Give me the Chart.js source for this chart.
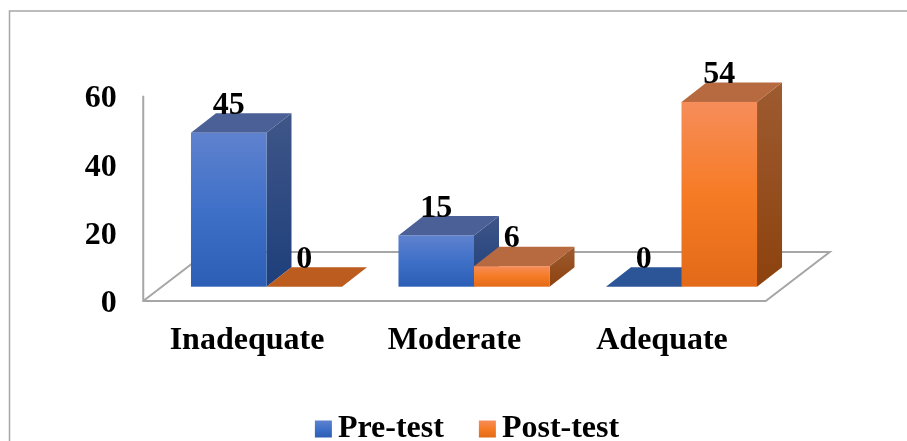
<!DOCTYPE html>
<html>
<head>
<meta charset="utf-8">
<style>
html,body{margin:0;padding:0;background:#fff;overflow:hidden}
canvas{display:block}
</style>
<script src="https://cdn.jsdelivr.net/npm/chart.js@4"></script>
</head>
<body>
<canvas id="c" width="907" height="441" style="width:907px;height:441px"></canvas>
<script>
const categories = ['Inadequate', 'Moderate', 'Adequate'];
const seriesNames = ['Pre-test', 'Post-test'];
const preTest = [45, 15, 0];
const postTest = [0, 6, 54];
const yTicks = [0, 20, 40, 60];

const FONT = '"Liberation Serif", "Times New Roman", serif';
const FONT_SIZE = 32;
const GRID = '#a6a6a6';

const palettes = [
  {front: ['#5f82ce', '#3f70c8', '#2c5eb6'], side: ['#3f5688', '#1e3f7b'], top: '#4a6096', flat: '#2c5597'},
  {front: ['#f68d5a', '#f67b25', '#e26a18'], side: ['#9e5b30', '#8c420e'], top: '#b76a40', flat: '#bc5c1f'}
];

// 3D projection offsets
const BAR_DX = 25, BAR_DY = -19.5;   // depth of a bar
const FLOOR_DX = 64, FLOOR_DY = -49; // depth of the floor
const FRONT_X = -19.5, FRONT_Y = 14.3; // front floor edge relative to plot box
const LEGEND_SHIFT = 35.4;

function vGrad(ctx, top, bottom, stops) {
  const g = ctx.createLinearGradient(0, top, 0, bottom);
  stops.forEach((c, i) => g.addColorStop(stops.length === 1 ? 0 : i / (stops.length - 1), c));
  return g;
}

const scene3d = {
  id: 'scene3d',
  afterLayout(chart) {
    const lg = chart.legend;
    lg.left += LEGEND_SHIFT;
    lg.right += LEGEND_SHIFT;
  },
  beforeDatasetsDraw(chart) {
    const {ctx, chartArea: a} = chart;
    ctx.save();
    // outer frame: left and top only
    ctx.strokeStyle = GRID;
    ctx.lineWidth = 1.5;
    ctx.beginPath();
    ctx.moveTo(9.5, 441);
    ctx.lineTo(9.5, 11);
    ctx.lineTo(907, 11);
    ctx.stroke();

    // axis line + floor
    const fx = a.left + FRONT_X, fy = a.bottom + FRONT_Y;
    const frx = a.right + FRONT_X;
    ctx.lineWidth = 2;
    ctx.beginPath();
    ctx.moveTo(fx, a.top + FRONT_Y);
    ctx.lineTo(fx, fy);
    ctx.lineTo(frx, fy);
    ctx.lineTo(frx + FLOOR_DX, fy + FLOOR_DY);
    ctx.lineTo(fx + FLOOR_DX, fy + FLOOR_DY);
    ctx.lineTo(fx, fy);
    ctx.stroke();

    // bars, first series first so the second one overlaps it
    chart.data.datasets.forEach((ds, di) => {
      const pal = palettes[di];
      chart.getDatasetMeta(di).data.forEach((el, i) => {
        const l = el.x - el.width / 2, r = el.x + el.width / 2;
        const t = el.y, b = el.base;
        ctx.fillStyle = vGrad(ctx, t + BAR_DY, b, pal.side);
        ctx.beginPath();
        ctx.moveTo(r, t); ctx.lineTo(r + BAR_DX, t + BAR_DY);
        ctx.lineTo(r + BAR_DX, b + BAR_DY); ctx.lineTo(r, b);
        ctx.closePath();
        if (b - t > 0) ctx.fill();
        ctx.fillStyle = ds.data[i] === 0 ? pal.flat : pal.top;
        ctx.beginPath();
        ctx.moveTo(l, t); ctx.lineTo(l + BAR_DX, t + BAR_DY);
        ctx.lineTo(r + BAR_DX, t + BAR_DY); ctx.lineTo(r, t);
        ctx.closePath();
        ctx.fill();
        if (b - t > 0) {
          ctx.fillStyle = vGrad(ctx, t, b, pal.front);
          ctx.fillRect(l, t, r - l, b - t);
        }
      });
    });

    // value labels
    ctx.fillStyle = '#000';
    ctx.font = 'bold ' + FONT_SIZE + 'px ' + FONT;
    ctx.textAlign = 'center';
    ctx.textBaseline = 'middle';
    chart.data.datasets.forEach((ds, di) => {
      chart.getDatasetMeta(di).data.forEach((el, i) => {
        ctx.fillText(String(ds.data[i]), el.x, el.y - 27);
      });
    });
    ctx.restore();
    return false;
  },
  afterDraw(chart) {
    // legend swatches over the native legend's box slots
    const {ctx, legend} = chart;
    ctx.save();
    legend.legendHitBoxes.forEach((h, i) => {
      const pal = palettes[i];
      const y = h.top + h.height / 2 - 8.5;
      ctx.fillStyle = vGrad(ctx, y, y + 17, pal.front);
      ctx.fillRect(h.left, y, 17, 17);
    });
    ctx.restore();
  }
};

new Chart(document.getElementById('c'), {
  type: 'bar',
  data: {
    labels: categories,
    datasets: [
      {label: seriesNames[0], data: preTest, backgroundColor: 'rgba(0,0,0,0)'},
      {label: seriesNames[1], data: postTest, backgroundColor: 'rgba(0,0,0,0)'}
    ]
  },
  plugins: [scene3d],
  options: {
    responsive: false,
    animation: false,
    devicePixelRatio: 1,
    layout: {padding: {left: 78, right: 121.75, top: 81.4, bottom: -14}},
    datasets: {bar: {categoryPercentage: 0.728, barPercentage: 1}},
    plugins: {
      title: {display: false},
      tooltip: {enabled: false},
      legend: {
        position: 'bottom',
        onClick: null,
        labels: {
          boxWidth: 7, boxHeight: 17, padding: 35,
          color: '#000',
          font: {family: FONT, size: FONT_SIZE, weight: 'bold'}
        }
      }
    },
    scales: {
      x: {
        grid: {display: false, drawTicks: false},
        border: {display: false},
        afterFit(s) { s.height = 91.3; },
        ticks: {color: '#000', padding: 35.3, labelOffset: -19.5, maxRotation: 0,
                font: {family: FONT, size: FONT_SIZE, weight: 'bold'}}
      },
      y: {
        min: 0, max: 60,
        grid: {display: false, drawTicks: false},
        border: {display: false},
        afterFit(s) { s.width = 84.75; },
        afterBuildTicks(s) { s.ticks = yTicks.map(v => ({value: v})); },
        ticks: {color: '#000', padding: 46, labelOffset: 17.5,
                font: {family: FONT, size: FONT_SIZE, weight: 'bold'}}
      }
    }
  }
});
</script>
</body>
</html>
